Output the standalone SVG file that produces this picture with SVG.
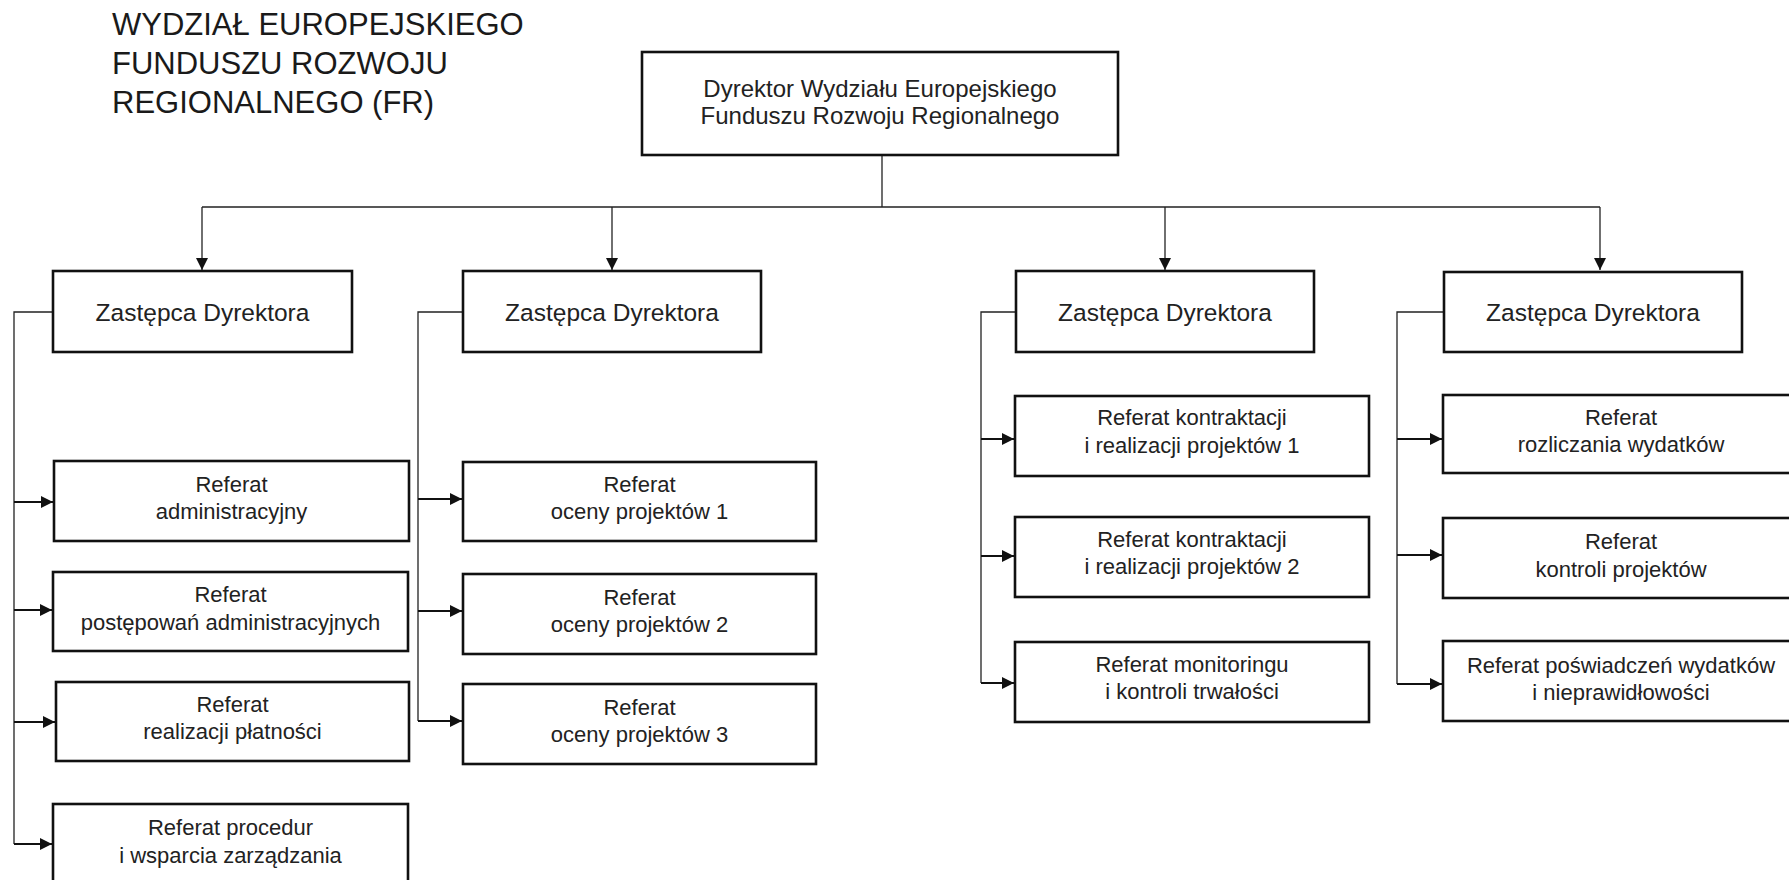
<svg xmlns="http://www.w3.org/2000/svg" width="1789" height="880" viewBox="0 0 1789 880">
<defs>
<marker id="ah" markerUnits="userSpaceOnUse" markerWidth="13" markerHeight="12" refX="12" refY="6" orient="auto">
<path d="M0,0 L12,6 L0,12 z" fill="#111"/>
</marker>
<style>
.box{fill:#fff;stroke:#111;stroke-width:2.6}
.t{font-family:"Liberation Sans",Arial,sans-serif;fill:#222;text-anchor:middle}
.s{font-size:22px}
.z{font-size:24.5px}
.d{font-size:24px}
.title{font-family:"Liberation Sans",Arial,sans-serif;fill:#1a1a1a;font-size:31px}
.ln{fill:none;stroke:#222;stroke-width:1.3}
.ar{fill:none;stroke:#111;stroke-width:1.8;marker-end:url(#ah)}
.ad{fill:none;stroke:#222;stroke-width:1.3;marker-end:url(#ah)}
</style>
</defs>
<rect width="1789" height="880" fill="#fff"/>

<g id="title">
<text class="title" x="112" y="35">WYDZIAŁ EUROPEJSKIEGO</text>
<text class="title" x="112" y="74">FUNDUSZU ROZWOJU</text>
<text class="title" x="112" y="113">REGIONALNEGO (FR)</text>
</g>

<g id="connectors">
<path class="ln" d="M882,155 V207 M202,207 H1600"/>
<path class="ad" d="M202,207 V270"/>
<path class="ad" d="M612,207 V270"/>
<path class="ad" d="M1165,207 V270"/>
<path class="ad" d="M1600,207 V270"/>
<path class="ln" d="M53,312 H14 V844"/>
<path class="ar" d="M14,502 H53"/>
<path class="ar" d="M14,610 H52"/>
<path class="ar" d="M14,722 H55"/>
<path class="ar" d="M14,844 H52"/>
<path class="ln" d="M463,312 H418 V721"/>
<path class="ar" d="M418,499 H462"/>
<path class="ar" d="M418,611 H462"/>
<path class="ar" d="M418,721 H462"/>
<path class="ln" d="M1016,312 H981 V683"/>
<path class="ar" d="M981,439 H1014"/>
<path class="ar" d="M981,556 H1014"/>
<path class="ar" d="M981,683 H1014"/>
<path class="ln" d="M1444,312 H1397 V684"/>
<path class="ar" d="M1397,439 H1442"/>
<path class="ar" d="M1397,555 H1442"/>
<path class="ar" d="M1397,684 H1442"/>
</g>

<g id="dyrektor">
<rect class="box" x="642" y="52" width="476" height="103"/>
<text class="t d" x="880" y="97">Dyrektor Wydziału Europejskiego</text>
<text class="t d" x="880" y="124">Funduszu Rozwoju Regionalnego</text>
</g>

<g id="zastepca1">
<rect class="box" x="53" y="271" width="299" height="81"/>
<text class="t z" x="202.5" y="321">Zastępca Dyrektora</text>
</g>
<g id="zastepca2">
<rect class="box" x="463" y="271" width="298" height="81"/>
<text class="t z" x="612" y="321">Zastępca Dyrektora</text>
</g>
<g id="zastepca3">
<rect class="box" x="1016" y="271" width="298" height="81"/>
<text class="t z" x="1165" y="321">Zastępca Dyrektora</text>
</g>
<g id="zastepca4">
<rect class="box" x="1444" y="272" width="298" height="80"/>
<text class="t z" x="1593" y="321">Zastępca Dyrektora</text>
</g>

<g id="ref-administracyjny">
<rect class="box" x="54" y="461" width="355" height="80"/>
<text class="t s" x="231.5" y="492">Referat</text>
<text class="t s" x="231.5" y="519">administracyjny</text>
</g>
<g id="ref-postepowan">
<rect class="box" x="53" y="572" width="355" height="79"/>
<text class="t s" x="230.5" y="602">Referat</text>
<text class="t s" x="230.5" y="630">postępowań administracyjnych</text>
</g>
<g id="ref-platnosci">
<rect class="box" x="56" y="682" width="353" height="79"/>
<text class="t s" x="232.5" y="712">Referat</text>
<text class="t s" x="232.5" y="739">realizacji płatności</text>
</g>
<g id="ref-procedur">
<rect class="box" x="53" y="804" width="355" height="82"/>
<text class="t s" x="230.5" y="835">Referat procedur</text>
<text class="t s" x="230.5" y="863">i wsparcia zarządzania</text>
</g>

<g id="ref-oceny1">
<rect class="box" x="463" y="462" width="353" height="79"/>
<text class="t s" x="639.5" y="492">Referat</text>
<text class="t s" x="639.5" y="519">oceny projektów 1</text>
</g>
<g id="ref-oceny2">
<rect class="box" x="463" y="574" width="353" height="80"/>
<text class="t s" x="639.5" y="605">Referat</text>
<text class="t s" x="639.5" y="632">oceny projektów 2</text>
</g>
<g id="ref-oceny3">
<rect class="box" x="463" y="684" width="353" height="80"/>
<text class="t s" x="639.5" y="715">Referat</text>
<text class="t s" x="639.5" y="742">oceny projektów 3</text>
</g>

<g id="ref-kontraktacji1">
<rect class="box" x="1015" y="396" width="354" height="80"/>
<text class="t s" x="1192" y="425">Referat kontraktacji</text>
<text class="t s" x="1192" y="453">i realizacji projektów 1</text>
</g>
<g id="ref-kontraktacji2">
<rect class="box" x="1015" y="517" width="354" height="80"/>
<text class="t s" x="1192" y="547">Referat kontraktacji</text>
<text class="t s" x="1192" y="574">i realizacji projektów 2</text>
</g>
<g id="ref-monitoringu">
<rect class="box" x="1015" y="642" width="354" height="80"/>
<text class="t s" x="1192" y="672">Referat monitoringu</text>
<text class="t s" x="1192" y="699">i kontroli trwałości</text>
</g>

<g id="ref-rozliczania">
<rect class="box" x="1443" y="395" width="356" height="78"/>
<text class="t s" x="1621" y="425">Referat</text>
<text class="t s" x="1621" y="452">rozliczania wydatków</text>
</g>
<g id="ref-kontroli">
<rect class="box" x="1443" y="518" width="356" height="80"/>
<text class="t s" x="1621" y="549">Referat</text>
<text class="t s" x="1621" y="577">kontroli projektów</text>
</g>
<g id="ref-poswiadczen">
<rect class="box" x="1443" y="641" width="356" height="80"/>
<text class="t s" x="1621" y="673">Referat poświadczeń wydatków</text>
<text class="t s" x="1621" y="700">i nieprawidłowości</text>
</g>
</svg>
